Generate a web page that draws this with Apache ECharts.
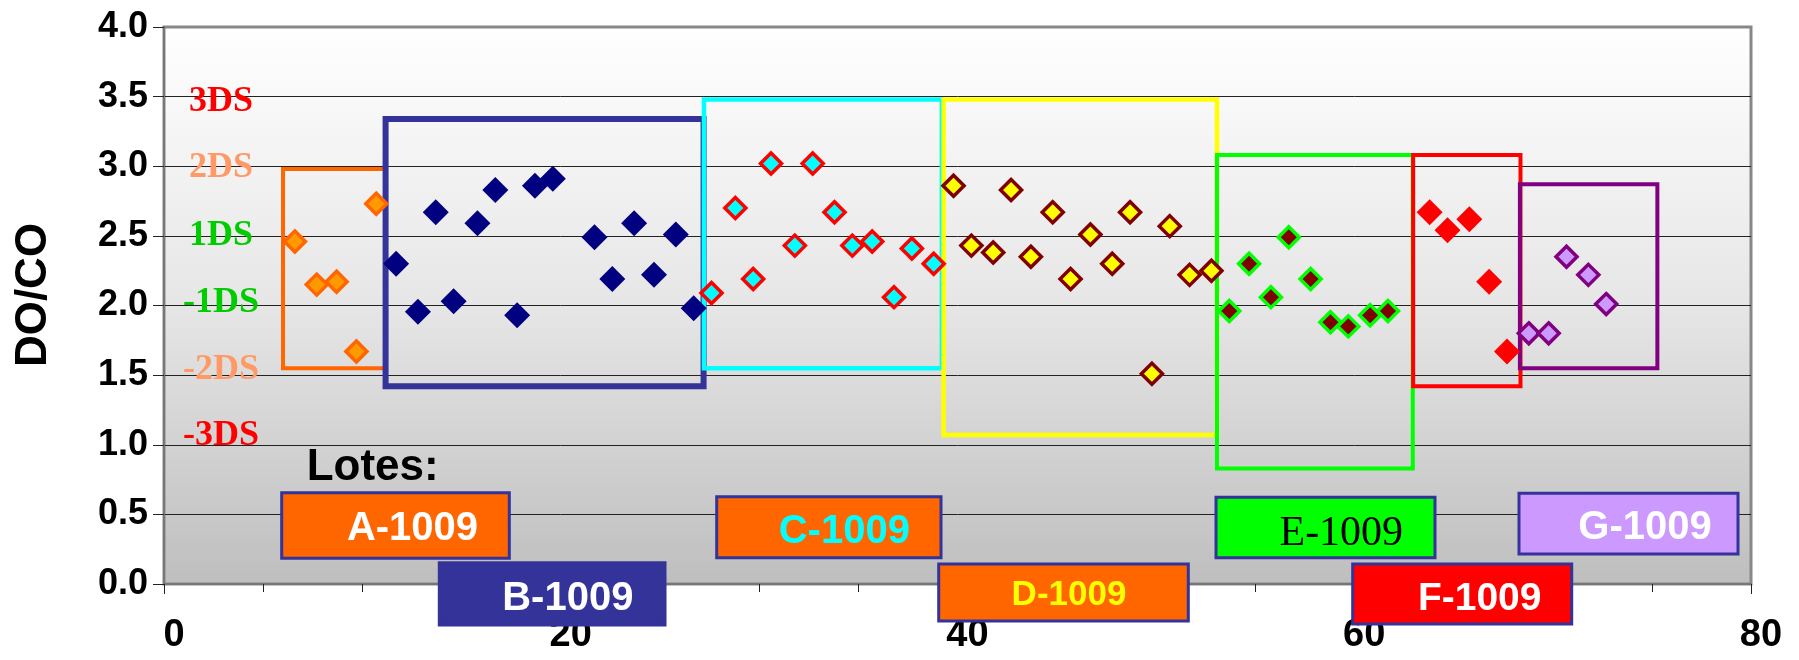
<!DOCTYPE html>
<html><head><meta charset="utf-8">
<script src="https://cdn.jsdelivr.net/npm/echarts@6/dist/echarts.min.js"></script>
<style>html,body{margin:0;padding:0;background:#fff}#c{width:1799px;height:660px}</style>
</head><body><div id="c"></div>
<script>
// ---- data ----
const xTickLabels = [0, 20, 40, 60, 80];
const yTickLabels = ['0.0','0.5','1.0','1.5','2.0','2.5','3.0','3.5','4.0'];
const lotNames = ['A-1009','B-1009','C-1009','D-1009','E-1009','F-1009','G-1009'];
const lotA = [[6.6,2.46],[7.7,2.15],[8.7,2.17],[9.7,1.67],[10.7,2.73]];
const lotB = [[11.7,2.30],[12.8,1.955],[13.7,2.67],[14.6,2.03],[15.8,2.59],[16.7,2.83],[17.8,1.93],[18.7,2.86],[19.6,2.91],[21.7,2.49],[22.6,2.19],[23.7,2.59],[24.7,2.22],[25.8,2.51],[26.7,1.98]];
const lotC = [[27.6,2.09],[28.8,2.70],[29.7,2.19],[30.6,3.02],[31.8,2.43],[32.7,3.02],[33.8,2.67],[34.7,2.43],[35.7,2.46],[36.8,2.06],[37.7,2.41],[38.8,2.30]];
const lotD = [[39.8,2.86],[40.7,2.43],[41.8,2.38],[42.7,2.83],[43.7,2.35],[44.8,2.67],[45.7,2.19],[46.7,2.51],[47.8,2.30],[48.7,2.67],[49.8,1.51],[50.7,2.57],[51.7,2.22],[52.8,2.25]];
const lotE = [[53.7,1.96],[54.7,2.30],[55.8,2.06],[56.7,2.49],[57.8,2.19],[58.8,1.88],[59.7,1.85],[60.8,1.93],[61.7,1.96]];
const lotF = [[63.8,2.67],[64.7,2.54],[65.8,2.62],[66.8,2.17],[67.7,1.67]];
const lotG = [[68.8,1.80],[69.8,1.80],[70.7,2.35],[71.8,2.22],[72.7,2.01]];
// group frames [xFrom, yFrom, xTo, yTo] in data units
const lotFrames = [[6.0,1.55,11.17,2.98],[11.17,1.42,27.2,3.34],[27.22,1.55,39.21,3.48],[39.3,1.07,53.08,3.48],[53.08,0.83,62.95,3.08],[62.97,1.42,68.38,3.08],[68.35,1.55,75.28,2.87]];
const dsLabels = ['3DS','2DS','1DS','-1DS','-2DS','-3DS'];
const yTitle = 'DO/CO';
const lotesTitle = 'Lotes:';

// ---- styles ----
const frameColors = ['#FF6600','#333399','#00FFFF','#FFFF00','#00FF00','#FF0000','#800080'];
const frameWidths = [4,6,4.5,4.5,4,4,4];
const markerStyles = [
  {size:21, fill:'#FF9900', border:'#FF6600', bw:3.5},
  {size:26, fill:'#000080', border:'#000080', bw:0},
  {size:21, fill:'#00FFFF', border:'#FF0000', bw:3.5},
  {size:21, fill:'#FFFF00', border:'#800000', bw:3.5},
  {size:21, fill:'#800000', border:'#00FF00', bw:3.5},
  {size:26, fill:'#FF0000', border:'#FF0000', bw:0},
  {size:21, fill:'#CC99FF', border:'#800080', bw:3.5}
];
const lots = [lotA, lotB, lotC, lotD, lotE, lotF, lotG];

const chart = echarts.init(document.getElementById('c'), null, {renderer:'canvas'});
const sans = "'Liberation Sans', Arial, sans-serif";
const serif = "'Liberation Serif', 'Times New Roman', serif";

const series = [];
series.push({
  type:'custom', z:1, silent:true,
  data: lotFrames.map((f,i)=>[f[0],f[1],f[2],f[3],i]),
  encode:{x:[0,2], y:[1,3]},
  renderItem:(params, api)=>{
    const p1 = api.coord([api.value(0), api.value(3)]);
    const p2 = api.coord([api.value(2), api.value(1)]);
    const i = api.value(4);
    return {type:'rect', shape:{x:p1[0], y:p1[1], width:p2[0]-p1[0], height:p2[1]-p1[1]},
      style:{fill:null, stroke:frameColors[i], lineWidth:frameWidths[i]}};
  }
});
lots.forEach((d,i)=>{
  const m = markerStyles[i];
  series.push({
    type:'scatter', name:lotNames[i], z:3, symbol:'diamond', symbolSize:m.size,
    itemStyle:{color:m.fill, borderColor:m.border, borderWidth:m.bw, opacity:1},
    data:d
  });
});

// annotations (label boxes)
const boxes = [
  {x:281.7,y:492.7,w:227.6,h:65.6, fill:'#FF6600', tc:'#FFFFFF', tx:412.5, ty:529, font:'bold 40px '+sans},
  {x:439.3,y:562.7,w:225.7,h:62.3, fill:'#333399', tc:'#FFFFFF', tx:567.8, ty:599, font:'bold 40px '+sans},
  {x:716.7,y:496.7,w:224.3,h:61, fill:'#FF6600', tc:'#00FFFF', tx:844.3, ty:532, font:'bold 40px '+sans},
  {x:938.7,y:564,w:249.6,h:57, fill:'#FF6600', tc:'#FFFF00', tx:1069, ty:595, font:'bold 35px '+sans},
  {x:1216,y:497.3,w:219,h:60.4, fill:'#00FF00', tc:'#000000', tx:1341.3, ty:534, font:'42px '+serif},
  {x:1352.7,y:564,w:219,h:60, fill:'#FF0000', tc:'#FFFFFF', tx:1479.7, ty:599, font:'bold 39px '+sans},
  {x:1519,y:493.3,w:219,h:60.7, fill:'#CC99FF', tc:'#FFFFFF', tx:1645, ty:528, font:'bold 40px '+sans}
];
const graphic = [];
boxes.forEach((b,i)=>{
  graphic.push({type:'rect', z:10, shape:{x:b.x,y:b.y,width:b.w,height:b.h},
    style:{fill:b.fill, stroke:'#333399', lineWidth:3}});
  graphic.push({type:'text', z:11, x:b.tx, y:b.ty,
    style:{text:lotNames[i], fill:b.tc, font:b.font, textAlign:'center', textVerticalAlign:'middle'}});
});
graphic.push({type:'text', z:11, x:306.7, y:468,
  style:{text:lotesTitle, fill:'#000', font:'bold 44px '+sans, textAlign:'left', textVerticalAlign:'middle'}});
const dsColors = ['#FF0000','#FF9966','#00CC00','#00CC00','#FF9966','#FF0000'];
const dsPos = [[189,102],[189,168],[189,236],[183,303],[183,370],[183,436]];
dsLabels.forEach((t,i)=>{
  graphic.push({type:'text', z:9, x:dsPos[i][0], y:dsPos[i][1],
    style:{text:t, fill:dsColors[i], font:'bold 36px '+serif, textAlign:'left', textVerticalAlign:'middle'}});
});

chart.setOption({
  animation:false,
  backgroundColor:'#FFFFFF',
  grid:{left:164, top:27, width:1587, height:557, show:true,
    backgroundColor:{type:'linear',x:0,y:0,x2:0,y2:1,colorStops:[{offset:0,color:'#FFFFFF'},{offset:0.5,color:'#E6E6E6'},{offset:1,color:'#BEBEBE'}]},
    borderColor:'#888888', borderWidth:3},
  xAxis:{type:'value', min:0, max:80, interval:20,
    axisLine:{show:true, onZero:false, lineStyle:{color:'#777777', width:2}},
    axisTick:{show:true, inside:false, length:10, lineStyle:{color:'#222', width:1}},
    minorTick:{show:true, splitNumber:4, length:8, lineStyle:{color:'#222', width:1}},
    splitLine:{show:false},
    axisLabel:{color:'#000', fontFamily:sans, fontWeight:'bold', fontSize:38, margin:33, padding:[0,0,0,20],
      formatter:(v)=> xTickLabels.includes(v) ? String(v) : ''}
  },
  yAxis:{type:'value', min:0, max:4, interval:0.5,
    name:yTitle, nameLocation:'middle', nameGap:108,
    nameTextStyle:{color:'#000', fontFamily:sans, fontWeight:'bold', fontSize:44, padding:[0,0,0,21]},
    axisLine:{show:true, lineStyle:{color:'#777777', width:2}},
    axisTick:{show:true, inside:false, length:11, lineStyle:{color:'#222', width:1}},
    splitLine:{show:true, lineStyle:{color:['#777','#222','#222','#222','#222','#222','#222','#222','#888'], width:1}},
    axisLabel:{color:'#000', fontFamily:sans, fontWeight:'bold', fontSize:36, margin:16,
      formatter:(v)=> yTickLabels[Math.round(v*2)]}
  },
  graphic:graphic,
  series:series
});
</script></body></html>
